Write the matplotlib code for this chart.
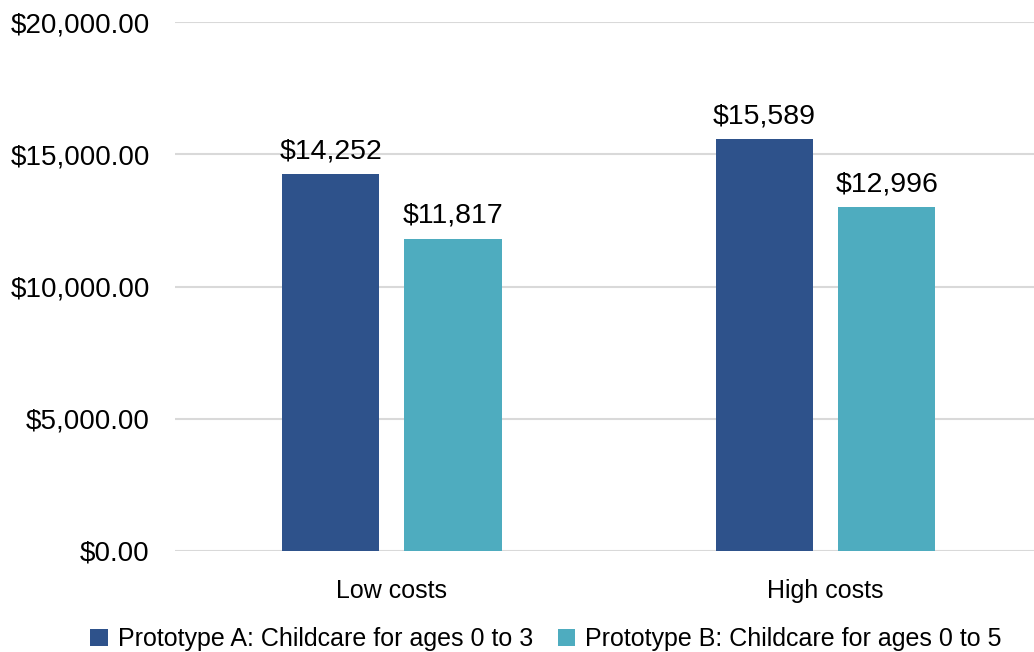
import numpy as np
import matplotlib.pyplot as plt
from matplotlib.ticker import FuncFormatter
from matplotlib.patches import Patch

plt.rcParams['font.family'] = ['Liberation Sans', 'DejaVu Sans']

categories = ["Low costs", "High costs"]
series_names = ["Prototype A: Childcare for ages 0 to 3",
                "Prototype B: Childcare for ages 0 to 5"]
proto_a = [14252, 15589]
proto_b = [11817, 12996]
colors = ["#2E528B", "#4EACBF"]

fig = plt.figure(figsize=(10.34, 6.52), dpi=100)
ax = fig.add_axes([0.169, 0.155, 0.831, 0.811])

x = np.arange(len(categories))
width = 0.224
offset = 0.141
for vals, col, sign in zip([proto_a, proto_b], colors, [-1, 1]):
    bars = ax.bar(x + sign * offset, vals, width, color=col, zorder=3)
    for b, v in zip(bars, vals):
        ax.annotate(f"${v:,}", (b.get_x() + b.get_width() / 2, v),
                    xytext=(0, 7), textcoords="offset points",
                    ha="center", va="bottom", fontsize=20.5)

ax.set_ylim(0, 20000)
ax.set_xlim(-0.5, 1.48)
ax.set_yticks(np.arange(0, 20001, 5000))
ax.yaxis.set_major_formatter(FuncFormatter(lambda v, p: f"${v:,.2f}"))
ax.set_xticks(x)
ax.set_xticklabels(categories)
ax.tick_params(axis="y", length=0, labelsize=20, pad=18)
ax.tick_params(axis="x", length=0, labelsize=18, pad=20)
ax.grid(axis="y", color="#D9D9D9", linewidth=1.5, zorder=0)
for s in ax.spines.values():
    s.set_visible(False)

handles = [Patch(facecolor=c) for c in colors]
fig.legend(handles, series_names, loc="lower center", ncol=2,
           bbox_to_anchor=(0.528, -0.033), frameon=False, fontsize=18,
           handlelength=0.7, handleheight=0.7, handletextpad=0.4,
           columnspacing=1.0)

fig.savefig("out.png", dpi=100)
